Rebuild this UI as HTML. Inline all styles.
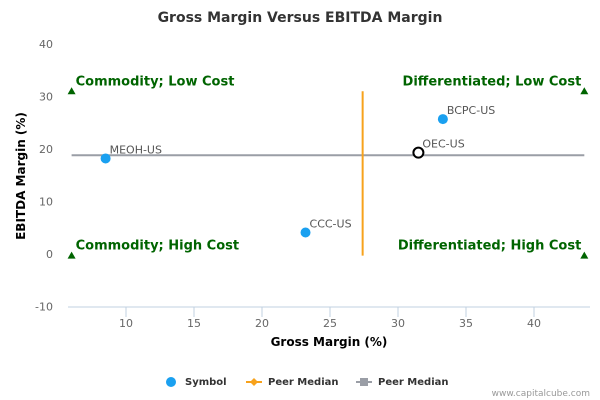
<!DOCTYPE html>
<html><head><meta charset="utf-8"><style>
body{margin:0;background:#fff;}
svg{display:block;font-family:"DejaVu Sans","Liberation Sans",sans-serif;}
</style></head><body>
<svg id="chart" width="600" height="400">
<text x="300" y="22" text-anchor="middle" font-size="14" font-weight="bold" fill="#333">Gross Margin Versus EBITDA Margin</text>
<g id="grid"></g>
<g id="marks"></g>
<text x="329" y="346" text-anchor="middle" font-size="12" font-weight="bold" fill="#000">Gross Margin (%)</text>
<text transform="translate(25,176) rotate(-90)" text-anchor="middle" font-size="12" font-weight="bold" fill="#000">EBITDA Margin (%)</text>
<g font-size="10" font-weight="bold" fill="#333">
<g><circle cx="171" cy="382" r="5" fill="#1aa0f0"/><text x="185" y="385">Symbol</text></g>
<g><line x1="246" y1="382" x2="262" y2="382" stroke="#f7a21c" stroke-width="2"/><path d="M254 378 L258 382 L254 386 L250 382Z" fill="#f7a21c"/><text x="268" y="385">Peer Median</text></g>
<g><line x1="356" y1="382" x2="372" y2="382" stroke="#9a9ea6" stroke-width="2"/><rect x="360" y="378" width="8" height="8" fill="#9a9ea6"/><text x="378" y="385">Peer Median</text></g>
</g>
<text x="590" y="396" text-anchor="end" font-size="9" fill="#999">www.capitalcube.com</text>
</svg>
<script>
const xTicks=[10,15,20,25,30,35,40];
const yTicks=[40,30,20,10,0,-10];
const symbols=["MEOH-US","CCC-US","BCPC-US","OEC-US"];
const grossMargin=[8.5,23.2,33.3,31.5];
const ebitdaMargin=[18.2,4.1,25.7,19.3];
const peerMedianX=27.4;
const peerMedianY=18.8;
const quadrantLabels=["Commodity; Low Cost","Differentiated; Low Cost","Commodity; High Cost","Differentiated; High Cost"];
const quadrantX=[6,43.7,6,43.7];
const quadrantY=[31,31,-0.3,-0.3];
const NS="http://www.w3.org/2000/svg";
const X=v=>126+(v-10)*13.6;
const Y=v=>254-v*5.25;
function el(t,a,p){const e=document.createElementNS(NS,t);for(const k in a)e.setAttribute(k,a[k]);p.appendChild(e);return e;}
const grid=document.getElementById('grid'),marks=document.getElementById('marks');
const ax=el('line',{x1:68,y1:307,x2:590,y2:307,stroke:'#c0d0e0'},grid);


xTicks.forEach(v=>{
 const t=el('line',{x1:X(v),y1:307,x2:X(v),y2:317,stroke:'#c0d0e0'},grid);
 
 
 const l=el('text',{x:X(v),y:327,'text-anchor':'middle','font-size':11,fill:'#666'},grid);l.textContent=v;
 
 
});
yTicks.forEach(v=>{
 const l=el('text',{x:53,y:Y(v)+4,'text-anchor':'end','font-size':11,fill:'#666'},grid);l.textContent=v;
 
 
});
const hm=el('line',{x1:X(quadrantX[0]),y1:Y(peerMedianY),x2:X(quadrantX[1]),y2:Y(peerMedianY),stroke:'#9a9ea6','stroke-width':2},marks);


const vm=el('line',{x1:X(peerMedianX),y1:Y(quadrantY[0]),x2:X(peerMedianX),y2:Y(quadrantY[2]),stroke:'#f7a21c','stroke-width':2},marks);


quadrantLabels.forEach((s,i)=>{
 const cx=X(quadrantX[i]),cy=Y(quadrantY[i]);
 const tr=el('path',{d:`M${cx} ${cy-4} L${cx+4} ${cy+3} L${cx-4} ${cy+3}Z`,fill:'#006400'},marks);
 
 
 const right=i%2===1;
 const t=el('text',{x:right?cx-3:cx+4,y:cy-6,'text-anchor':right?'end':'start','font-size':13,'font-weight':'bold',fill:'#006400'},marks);
 t.textContent=s;
 
 
});
symbols.forEach((s,i)=>{
 const cx=X(grossMargin[i]),cy=Y(ebitdaMargin[i]);
 const open=s==="OEC-US";
 const c=el('circle',{cx,cy,r:open?5:5,fill:open?'#fff':'#1aa0f0',stroke:open?'#000':'none','stroke-width':2},marks);
 
 
 const t=el('text',{x:cx+4,y:cy-5,'font-size':11,fill:'#555'},marks);t.textContent=s;
 
 
});
</script>
</body></html>
